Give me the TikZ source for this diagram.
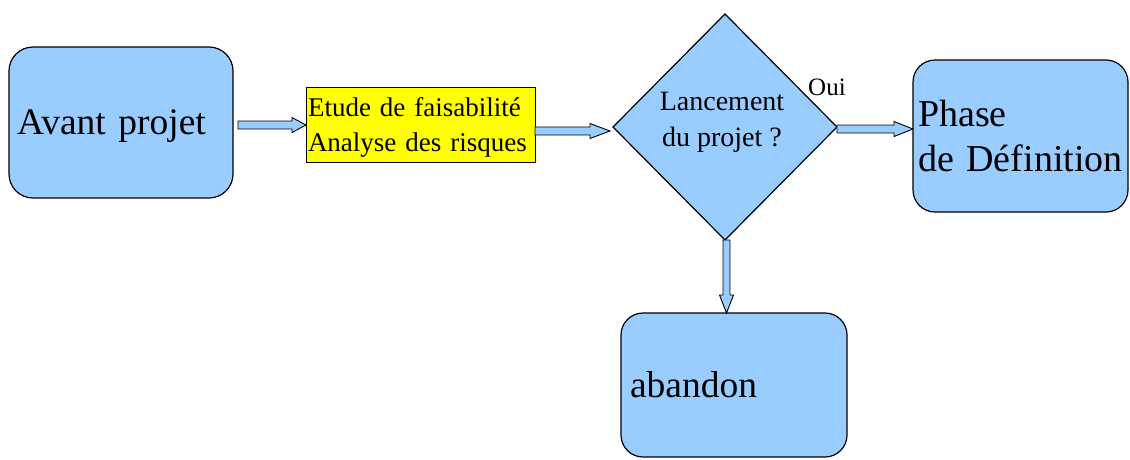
\documentclass[tikz,border=0pt]{standalone}
\usepackage{fontspec}
\setmainfont{Liberation Serif}
\usetikzlibrary{shapes.geometric,calc}
\definecolor{lblue}{HTML}{99CCFF}
\definecolor{yel}{HTML}{FFFF00}
\newcommand\harrow[4]{% from, to, y offset, head length
  \draw[arrowstyle] let \p1=(#1), \p2=(#2), \p3=($(#2)+(0,#3)$) in
    (\x1,\y3+4pt) -- (\x2-#4,\y3+4pt) -- (\x2-#4,\y3+7.5pt) -- (\x2,\y3)
    -- (\x2-#4,\y3-7.5pt) -- (\x2-#4,\y3-4pt) -- (\x1,\y3-4pt) -- cycle;}
\newcommand\varrow[4]{% from, to, x offset, head length
  \draw[arrowstyle] let \p1=(#1), \p2=(#2), \p3=($(#1)+(#3,0)$) in
    (\x3-3.5pt,\y1) -- (\x3-3.5pt,\y2+#4) -- (\x3-7pt,\y2+#4) -- (\x3,\y2)
    -- (\x3+7pt,\y2+#4) -- (\x3+3.5pt,\y2+#4) -- (\x3+3.5pt,\y1) -- cycle;}
\begin{document}
\begin{tikzpicture}[x=1pt,y=-1pt,
  box/.style={draw=black,line width=1.2pt,fill=lblue,rounded corners=22pt,
    align=left,anchor=north west,inner ysep=0pt,outer sep=0pt},
  arrowstyle/.style={draw=black,line width=0.9pt,fill=lblue,line join=miter}]
\useasboundingbox (0,0) rectangle (1130,459);

\node[box,rounded corners=24pt,minimum height=151pt,text width=208pt,inner xsep=8pt,
  text depth=0pt,font=\fontsize{37.5}{45}\selectfont] (avant) at (9,47) {Avant projet};

\node[draw=black,fill=yel,line width=0.9pt,anchor=north west,outer sep=0pt,
  minimum height=75pt,text width=225pt,inner xsep=2pt,inner ysep=0pt,align=left,
  text depth=35pt,font=\fontsize{27}{35}\selectfont] (etude) at (306,87)
  {Etude de faisabilité\\Analyse des risques};

\node[diamond,draw=black,fill=lblue,line width=1.2pt,minimum width=224pt,
  minimum height=226pt,inner sep=0pt,outer sep=0pt] (dec) at (725,127) {};
\node[font=\fontsize{28}{36}\selectfont,align=center,inner sep=0pt] (q) at (722,122)
  {Lancement\\du projet ?};

\node[font=\fontsize{25}{30}\selectfont,anchor=base west,inner sep=0pt] (oui) at (808,95) {Oui};

\node[box,minimum height=152pt,text width=205pt,inner xsep=5pt,
  font=\fontsize{38}{45}\selectfont] (phase) at (913,60) {Phase\\de Définition};

\node[box,minimum height=144pt,text width=208pt,inner xsep=9pt,
  font=\fontsize{37.5}{45}\selectfont] (aband) at (621,313) {abandon};

\harrow{[xshift=5pt]avant.east}{etude.west}{0.5}{14pt}
\harrow{etude.east}{[xshift=-3pt]dec.west}{4}{20pt}
\harrow{dec.east}{phase.west}{-7}{19pt}
\varrow{dec.south}{aband.north}{1.5}{18pt}
\end{tikzpicture}
\end{document}
